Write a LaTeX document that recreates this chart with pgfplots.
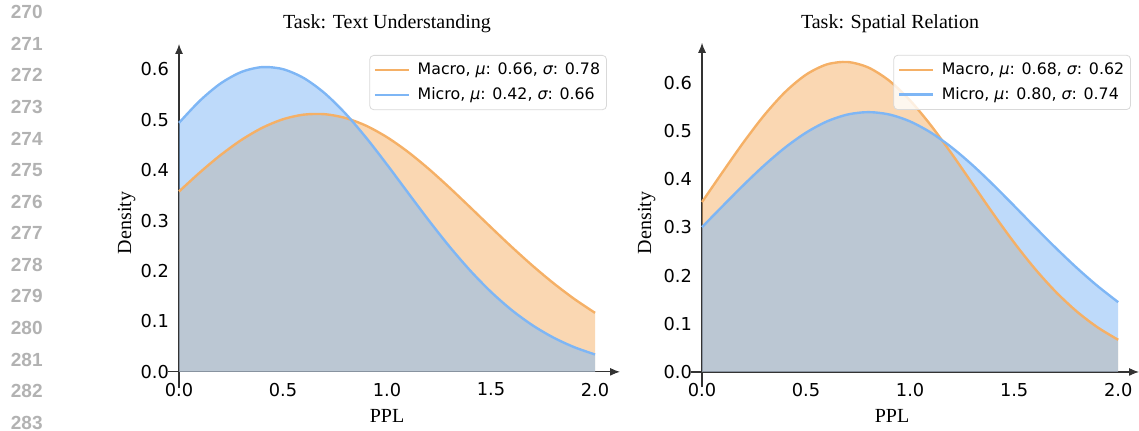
\documentclass[border=0pt]{standalone}
\usepackage{pgfplots}
\usepackage{pgfplotstable}
\pgfplotsset{compat=1.18}
\usetikzlibrary{arrows.meta}
\usepackage{fontspec}
\setmainfont{Liberation Serif}
\newfontfamily\dejavu{DejaVu Sans}
\newfontfamily\arialb{Liberation Sans}
\definecolor{orangeC}{RGB}{245,176,102}
\definecolor{blueC}{RGB}{126,182,245}

\pgfplotstableread{
x y
0.0 0.35755
0.1 0.39528
0.2 0.42983
0.3 0.45979
0.4 0.48383
0.5 0.50082
0.6 0.50996
0.7 0.51080
0.8 0.50330
0.9 0.48783
1.0 0.46512
1.1 0.43623
1.2 0.40248
1.3 0.36527
1.4 0.32611
1.5 0.28641
1.6 0.24743
1.7 0.21027
1.8 0.17579
1.9 0.14456
2.0 0.11693
}\MacroL
\pgfplotstableread{
x y
0.0 0.49366
0.1 0.53743
0.2 0.57179
0.3 0.59455
0.4 0.60418
0.5 0.60004
0.6 0.58239
0.7 0.55244
0.8 0.51214
0.9 0.46399
1.0 0.41084
1.1 0.35551
1.2 0.30066
1.3 0.24850
1.4 0.20075
1.5 0.15846
1.6 0.12225
1.7 0.09218
1.8 0.06792
1.9 0.04892
2.0 0.03442
}\MicroL
\pgfplotstableread{
x y
0.0 0.35262
0.1 0.41542
0.2 0.47684
0.3 0.53326
0.4 0.58107
0.5 0.61689
0.6 0.63812
0.7 0.64312
0.8 0.63151
0.9 0.60419
1.0 0.56321
1.1 0.51152
1.2 0.45265
1.3 0.39028
1.4 0.32786
1.5 0.26834
1.6 0.21399
1.7 0.16626
1.8 0.12586
1.9 0.09284
2.0 0.06671
}\MacroR
\pgfplotstableread{
x y
0.0 0.30053
0.1 0.34464
0.2 0.38809
0.3 0.42908
0.4 0.46583
0.5 0.49658
0.6 0.51978
0.7 0.53421
0.8 0.53911
0.9 0.53421
1.0 0.51978
1.1 0.49658
1.2 0.46583
1.3 0.42908
1.4 0.38809
1.5 0.34464
1.6 0.30053
1.7 0.25732
1.8 0.21634
1.9 0.17859
2.0 0.14476
}\MicroR

\pgfplotsset{
  myaxis/.style={
    scale only axis, axis lines=middle,
    axis line style={black!80, line width=0.55pt, -{Latex[length=5pt,width=4pt]}},
    xtick={0,0.5,1,1.5,2}, xticklabels={0.0,0.5,1.0,1.5,2.0},
    ytick={0,0.1,0.2,0.3,0.4,0.5,0.6}, yticklabels={0.0,0.1,0.2,0.3,0.4,0.5,0.6},
    major tick length=0pt,
    hide obscured x ticks=false, hide obscured y ticks=false,
    tick label style={font=\dejavu\fontsize{8.9}{10}\selectfont},
    xticklabel style={yshift=-2pt}, yticklabel style={xshift=-1.5pt},
    legend cell align=left,
    legend style={draw=black!15, rounded corners=2pt, fill=white, fill opacity=0.8,
      text opacity=1, draw opacity=1, anchor=north east,
      font=\dejavu\fontsize{7.9}{9}\selectfont,
      inner xsep=2pt, inner ysep=2.5pt, row sep=2.5pt, column sep=2.5pt,
      nodes={inner sep=1.2pt}},
    clip=false,
  },
  filla/.style={draw=none, fill=#1, fill opacity=0.5, smooth, forget plot},
  linea/.style={color=#1, line width=1.2pt, smooth},
}

\begin{document}
\begin{tikzpicture}[x=0.5pt,y=0.5pt]
\useasboundingbox (0,0) rectangle (1139,431);

% line numbers
\foreach \i in {0,...,13}{
  \pgfmathsetmacro{\yy}{431-12-31.6*\i}
  \node[anchor=east, text=black!30, font=\arialb\bfseries\fontsize{9.5}{10}\selectfont, inner sep=0pt]
    at (43,\yy) {\the\numexpr270+\i\relax};
}

% left axis
\begin{axis}[myaxis, at={(84pt,21.5pt)}, anchor=south west,
  width=226pt, height=172pt,
  xmin=-0.053, xmax=2.12, ymin=-0.032, ymax=0.65,
  legend style={at={(0.971,0.968)}}]
  \addplot[filla=orangeC] table {\MacroL} \closedcycle;
  \addplot[filla=blueC] table {\MicroL} \closedcycle;
  \addplot[linea=orangeC] table {\MacroL};
  \addlegendentry{Macro, {\itshape μ}: 0.66, {\itshape σ}: 0.78}
  \addplot[linea=blueC] table {\MicroL};
  \addlegendentry{Micro, {\itshape μ}: 0.42, {\itshape σ}: 0.66}
\end{axis}

% right axis
\begin{axis}[myaxis, at={(345.5pt,21.8pt)}, anchor=south west,
  width=224pt, height=172.3pt,
  xmin=-0.053, xmax=2.1, ymin=-0.032, ymax=0.683,
  legend style={at={(0.982,0.965)}}]
  \addplot[filla=orangeC] table {\MacroR} \closedcycle;
  \addplot[filla=blueC] table {\MicroR} \closedcycle;
  \addplot[linea=orangeC] table {\MacroR};
  \addlegendentry{Macro, {\itshape μ}: 0.68, {\itshape σ}: 0.62}
  \addplot[linea=blueC] table {\MicroR};
  \addlegendentry{Micro, {\itshape μ}: 0.80, {\itshape σ}: 0.74}
\end{axis}

% titles and labels
\node[anchor=base, font=\fontsize{10}{12}\selectfont] at (387,402) {Task: Text Understanding};
\node[anchor=base, font=\fontsize{10}{12}\selectfont] at (890,402) {Task: Spatial Relation};
\node[anchor=base, font=\fontsize{10}{12}\selectfont] at (387,8) {PPL};
\node[anchor=base, font=\fontsize{10}{12}\selectfont] at (892,8) {PPL};
\node[anchor=base, rotate=90, font=\fontsize{10}{12}\selectfont] at (131,208) {Density};
\node[anchor=base, rotate=90, font=\fontsize{10}{12}\selectfont] at (651,208) {Density};
\end{tikzpicture}
\end{document}
